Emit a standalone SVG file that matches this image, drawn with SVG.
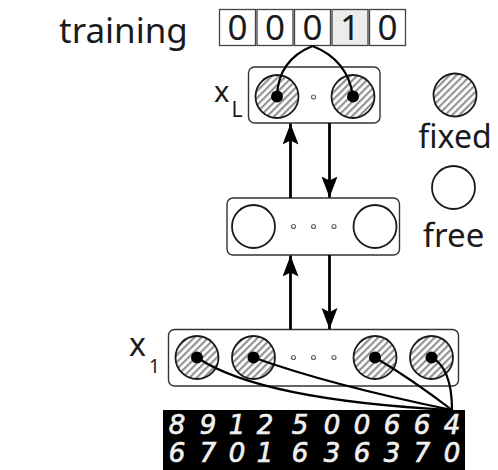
<svg xmlns="http://www.w3.org/2000/svg" width="498" height="470" viewBox="0 0 498 470">
  <style>
    .lbl { font-family: "Noto Sans", "Open Sans", sans-serif; fill: #1a1a1a; }
    .layer { fill: #fff; stroke: #333; stroke-width: 1.4; }
    .cell { fill: #fff; stroke: #444; stroke-width: 1.3; }
    .fixed { fill: url(#hatch); stroke: #1a1a1a; stroke-width: 1.8; }
    .free { fill: #fff; stroke: #1a1a1a; stroke-width: 1.8; }
    .pin { fill: #000; }
    .ellipsis { fill: #fff; stroke: #666; stroke-width: 1.2; }
    .wire { fill: none; stroke: #000; stroke-width: 2.2; }
    .flow { stroke: #000; stroke-width: 2.8; marker-end: url(#head); }
    .digit { font-family: "DejaVu Sans", sans-serif; font-style: italic; fill: #f0f0f0; stroke: #f0f0f0; stroke-width: 0.7; font-size: 26px; text-anchor: middle; }
  </style>
  <defs>
    <pattern id="hatch" patternUnits="userSpaceOnUse" width="5" height="5" patternTransform="rotate(-45)">
      <rect width="5" height="5" fill="#fff"/>
      <rect width="5" height="2.2" fill="#939393"/>
    </pattern>
    <marker id="head" markerUnits="userSpaceOnUse" markerWidth="24" markerHeight="18" refX="21" refY="8" orient="auto">
      <path d="M0,0 L21,8 L0,16 L4,8 z" fill="#000"/>
    </marker>
  </defs>

  <!-- training target vector -->
  <g id="training">
    <text class="lbl" x="59" y="43" font-size="35">training</text>
    <rect class="cell" x="219.5" y="9.5" width="36" height="36"/>
    <rect class="cell" x="257" y="9.5" width="36" height="36"/>
    <rect class="cell" x="294.5" y="9.5" width="36" height="36"/>
    <rect class="cell" x="332" y="9.5" width="36" height="36" style="fill:#ececec"/>
    <rect class="cell" x="369.5" y="9.5" width="36" height="36"/>
    <g class="lbl" font-size="35" text-anchor="middle">
      <text x="237.5" y="40">0</text>
      <text x="275" y="40">0</text>
      <text x="312.5" y="40">0</text>
      <text x="350" y="40">1</text>
      <text x="387.5" y="40">0</text>
    </g>
  </g>

  <!-- top layer x_L -->
  <g id="layer-xL">
    <rect class="layer" x="248.5" y="67" width="131.5" height="56" rx="6"/>
    <circle class="fixed" cx="277" cy="96.5" r="21.5"/>
    <circle class="fixed" cx="353" cy="96.5" r="21.5"/>
    <circle class="ellipsis" cx="313.5" cy="97" r="2"/>
    <circle class="pin" cx="277" cy="96.5" r="6"/>
    <circle class="pin" cx="353" cy="96.5" r="6"/>
    <text class="lbl" x="214" y="101.5" font-size="29">x</text>
    <text class="lbl" x="231.5" y="117" font-size="21">L</text>
  </g>

  <!-- hidden layer -->
  <g id="layer-hidden">
    <rect class="layer" x="227" y="198" width="172.5" height="57" rx="6"/>
    <circle class="free" cx="253.5" cy="226.5" r="21.5"/>
    <circle class="free" cx="375" cy="226.5" r="21.5"/>
    <circle class="ellipsis" cx="293.5" cy="226.5" r="2"/>
    <circle class="ellipsis" cx="313.5" cy="226.5" r="2"/>
    <circle class="ellipsis" cx="334" cy="226.5" r="2"/>
  </g>

  <!-- bottom layer x_1 -->
  <g id="layer-x1">
    <rect class="layer" x="168.5" y="329.5" width="290" height="56.5" rx="6"/>
    <circle class="fixed" cx="197" cy="357.5" r="21.5"/>
    <circle class="fixed" cx="253.5" cy="357.5" r="21.5"/>
    <circle class="fixed" cx="375" cy="357.5" r="21.5"/>
    <circle class="fixed" cx="431.5" cy="357.5" r="21.5"/>
    <circle class="ellipsis" cx="293.5" cy="357.5" r="2"/>
    <circle class="ellipsis" cx="313.5" cy="357.5" r="2"/>
    <circle class="ellipsis" cx="334" cy="357.5" r="2"/>
    <circle class="pin" cx="197" cy="357.5" r="6"/>
    <circle class="pin" cx="253.5" cy="357.5" r="6"/>
    <circle class="pin" cx="375" cy="357.5" r="6"/>
    <circle class="pin" cx="431.5" cy="357.5" r="6"/>
    <text class="lbl" x="129" y="356" font-size="32">x</text>
    <text class="lbl" x="149" y="373" font-size="19">1</text>
  </g>

  <!-- legend -->
  <g id="legend-fixed">
    <circle class="fixed" cx="455" cy="95" r="21.5"/>
    <text class="lbl" x="455" y="148" font-size="32" text-anchor="middle">fixed</text>
  </g>
  <g id="legend-free">
    <circle class="free" cx="453.5" cy="187.5" r="21.5"/>
    <text class="lbl" x="453.5" y="246.5" font-size="33" text-anchor="middle">free</text>
  </g>

  <!-- input image strip -->
  <g id="input-images">
    <rect x="163" y="410" width="302" height="60" fill="#000"/>
    <text class="digit" x="177" y="434">8</text>
    <text class="digit" x="208" y="434">9</text>
    <text class="digit" x="237" y="434">1</text>
    <text class="digit" x="265" y="434">2</text>
    <text class="digit" x="300" y="434">5</text>
    <text class="digit" x="332" y="434">0</text>
    <text class="digit" x="362" y="434">0</text>
    <text class="digit" x="392" y="434">6</text>
    <text class="digit" x="422" y="434">6</text>
    <text class="digit" x="452" y="434">4</text>
    <text class="digit" x="177" y="462">6</text>
    <text class="digit" x="208" y="462">7</text>
    <text class="digit" x="237" y="462">0</text>
    <text class="digit" x="265" y="462">1</text>
    <text class="digit" x="300" y="462">6</text>
    <text class="digit" x="332" y="462">3</text>
    <text class="digit" x="362" y="462">6</text>
    <text class="digit" x="392" y="462">3</text>
    <text class="digit" x="422" y="462">7</text>
    <text class="digit" x="452" y="462">0</text>
  </g>

  <!-- connectors -->
  <g id="connectors">
    <path class="wire" d="M312.5,46 Q278,60 277,96.5"/>
    <path class="wire" d="M312.5,46 Q348,60 353,96.5"/>
    <path class="wire" d="M197,357.5 Q260,400 452,410"/>
    <path class="wire" d="M253.5,357.5 Q330,385 452,410"/>
    <path class="wire" d="M375,357.5 Q410,378 452,410"/>
    <path class="wire" d="M431.5,357.5 Q452,368 452,410"/>
    <line class="flow" x1="290.5" y1="198" x2="290.5" y2="123.5"/>
    <line class="flow" x1="329.5" y1="123" x2="329.5" y2="197.5"/>
    <line class="flow" x1="290.5" y1="329.5" x2="290.5" y2="255.5"/>
    <line class="flow" x1="329.5" y1="255" x2="329.5" y2="329"/>
  </g>
</svg>
